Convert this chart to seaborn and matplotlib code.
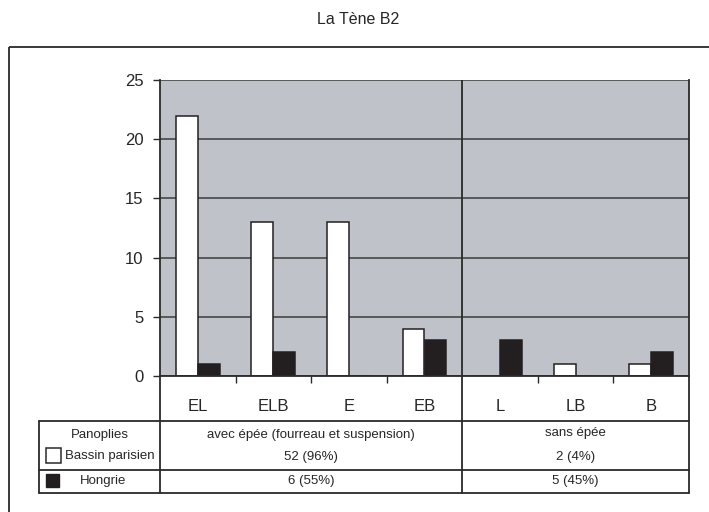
import matplotlib.pyplot as plt
import pandas as pd
import seaborn as sns
from matplotlib.patches import Rectangle

# Data
categories = ['EL', 'ELB', 'E', 'EB', 'L', 'LB', 'B']
bassin = [22, 13, 13, 4, 0, 1, 1]
hongrie = [1, 2, 0, 3, 3, 0, 2]
series_names = ['Bassin parisien', 'Hongrie']
groups = ['avec épée (fourreau et suspension)', 'sans épée']
group_size = 4  # first 4 categories are "avec épée"
y_ticks = [0, 5, 10, 15, 20, 25]

df = pd.DataFrame({
    'panoplie': categories * 2,
    'n': bassin + hongrie,
    'region': [series_names[0]] * len(categories) + [series_names[1]] * len(categories),
})

sns.set_style('white')
plt.rcParams['font.family'] = ['Liberation Sans', 'DejaVu Sans']

W, H = 709, 512
fig = plt.figure(figsize=(W / 100, H / 100), dpi=100)

# overlay in pixel coordinates for the frame and table
ov = fig.add_axes([0, 0, 1, 1], zorder=0)
ov.set_xlim(0, W)
ov.set_ylim(H, 0)
ov.axis('off')
ov.patch.set_visible(False)

line_c = '#2a2a2a'
ov.add_patch(Rectangle((9, 47), 720, 500, fill=False, edgecolor=line_c, lw=1.3))
ov.text(W / 2 + 4, 20, 'La Tène B2', ha='center', va='center', fontsize=11.5)

# plot area
x0, x1, ytop, ybot = 160, 689, 80, 376
ax = fig.add_axes([x0 / W, 1 - ybot / H, (x1 - x0) / W, (ybot - ytop) / H], zorder=2)
ax.set_facecolor('#c0c2ca')
ax.yaxis.grid(True, color='#3c3c3c', lw=1.1)
ax.set_axisbelow(True)
sns.barplot(df, x='panoplie', y='n', hue='region', palette=['white', '#231f20'],
            saturation=1, width=0.58, gap=0, edgecolor='#231f20', linewidth=1.1,
            legend=False, ax=ax, err_kws={'linewidth': 0})
ax.set_xlim(-0.5, len(categories) - 0.5)
ax.set_ylim(0, 25)
ax.set_yticks(y_ticks)
ax.axvline(group_size - 0.5, color=line_c, lw=1.3)
ax.set_xlabel('')
ax.set_ylabel('')
for side in ['left', 'right', 'bottom']:
    ax.spines[side].set_color(line_c)
    ax.spines[side].set_linewidth(1.3)
ax.spines['top'].set_visible(False)
ax.tick_params(axis='y', left=True, length=5, width=1, color=line_c, labelsize=12, pad=7)
ax.tick_params(axis='x', bottom=False, labelsize=12, pad=13)
bounds = [i + 0.5 for i in range(len(categories) - 1) if i + 1 != group_size]
ax.set_xticks(bounds, minor=True)
ax.tick_params(axis='x', which='minor', bottom=True, length=5, width=1, color=line_c)

# table below the chart
sep_x = x0 + (x1 - x0) * group_size / len(categories)
t_left, t_top, t_mid, t_bot = 39, 421, 470, 493
for xv in [x0, sep_x, x1]:
    ov.plot([xv, xv], [ybot, t_bot], color=line_c, lw=1.3)
ov.plot([t_left, t_left], [t_top, t_bot], color=line_c, lw=1.3)
for yv in [t_top, t_mid, t_bot]:
    ov.plot([t_left, x1], [yv, yv], color=line_c, lw=1.3)

ov.add_patch(Rectangle((46, 448), 15, 15, facecolor='white', edgecolor=line_c, lw=1.1))
ov.add_patch(Rectangle((46, 474), 13, 13, facecolor='#231f20', edgecolor='#231f20', lw=1))

fs = 9.5
ov.text(100, 435, 'Panoplies', ha='center', va='center', fontsize=fs)
ov.text(65, 456, series_names[0], ha='left', va='center', fontsize=fs)
ov.text(103, 481, series_names[1], ha='center', va='center', fontsize=fs)

col_centers = [(x0 + sep_x) / 2, (sep_x + x1) / 2]
for values, yv in [(bassin, 457), (hongrie, 481)]:
    totals = [sum(values[:group_size]), sum(values[group_size:])]
    total = sum(totals)
    for cx, t in zip(col_centers, totals):
        ov.text(cx, yv, f'{t} ({round(t / total * 100)}%)', ha='center', va='center', fontsize=fs)
for cx, g, yv in zip(col_centers, groups, [435, 433]):
    ov.text(cx, yv, g, ha='center', va='center', fontsize=fs)

fig.savefig('out.png', dpi=100)
